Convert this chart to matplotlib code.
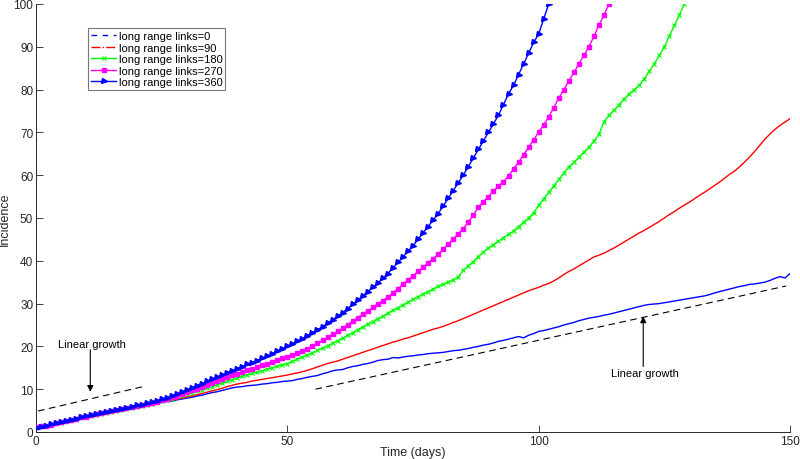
import matplotlib
matplotlib.use("Agg")
import matplotlib.pyplot as plt
from matplotlib.lines import Line2D

plt.rcParams['font.family'] = ['Liberation Sans', 'DejaVu Sans']

# ---- data (incidence per day) ----
links0 = [1.0,1.1,1.3,1.6,1.9,2.2,2.4,2.7,2.9,3.2,
          3.5,3.7,3.9,4.2,4.4,4.6,4.8,5.1,5.3,5.6,
          5.8,6.0,6.2,6.4,6.6,6.9,7.1,7.2,7.5,7.7,
          7.9,8.1,8.4,8.6,8.9,9.2,9.4,9.7,10.0,10.3,
          10.5,10.6,10.8,10.9,11.0,11.2,11.3,11.5,11.6,11.8,
          11.9,12.0,12.3,12.5,12.8,13.0,13.2,13.6,13.9,14.3,
          14.5,14.6,15.0,15.3,15.5,15.8,16.0,16.3,16.7,16.9,
          17.0,17.4,17.3,17.5,17.7,17.8,18.0,18.1,18.3,18.4,
          18.5,18.6,18.8,19.0,19.1,19.3,19.5,19.8,20.0,20.3,
          20.5,20.8,21.2,21.4,21.7,22.0,22.3,22.0,22.6,23.0,
          23.5,23.7,24.0,24.3,24.6,25.0,25.3,25.6,26.0,26.3,
          26.6,26.8,27.0,27.3,27.5,27.8,28.1,28.4,28.7,29.0,
          29.3,29.6,29.8,29.9,30.0,30.2,30.4,30.6,30.8,31.0,
          31.2,31.4,31.6,31.8,32.1,32.5,32.8,33.1,33.4,33.7,
          34.0,34.2,34.5,34.6,34.8,35.0,35.4,35.9,36.3,36.0,
          37.0]
links90 = [1.0,1.2,1.4,1.6,1.9,2.2,2.5,2.7,3.0,3.2,
           3.5,3.7,4.0,4.2,4.4,4.7,4.9,5.1,5.4,5.6,
           5.8,6.0,6.3,6.5,6.7,7.0,7.2,7.4,7.7,7.9,
           8.2,8.4,8.7,9.0,9.3,9.6,9.9,10.2,10.6,10.9,
           11.2,11.4,11.6,11.9,12.1,12.3,12.5,12.7,12.9,13.1,
           13.3,13.6,13.8,14.1,14.4,14.8,15.2,15.6,16.0,16.3,
           16.6,17.0,17.4,17.8,18.2,18.6,19.0,19.4,19.8,20.2,
           20.6,21.0,21.3,21.7,22.0,22.4,22.8,23.2,23.6,24.0,
           24.3,24.7,25.1,25.6,26.0,26.5,27.0,27.5,28.0,28.5,
           29.0,29.5,30.0,30.5,31.0,31.5,32.0,32.5,33.0,33.4,
           33.8,34.3,34.7,35.3,36.0,36.8,37.5,38.1,38.8,39.5,
           40.2,40.9,41.3,41.8,42.4,43.0,43.7,44.4,45.1,45.8,
           46.5,47.1,47.8,48.5,49.2,50.0,50.8,51.5,52.3,53.0,
           53.7,54.5,55.3,56.0,56.8,57.6,58.4,59.3,60.2,61.0,
           62.0,63.1,64.3,65.6,67.0,68.4,69.6,70.7,71.6,72.4,
           73.2]
links180 = [0.9,1.1,1.4,1.7,2.0,2.2,2.5,2.8,3.0,3.3,
            3.5,3.8,4.0,4.3,4.5,4.7,5.0,5.2,5.4,5.7,
            5.9,6.1,6.3,6.6,6.9,7.2,7.5,7.8,8.1,8.5,
            8.8,9.1,9.5,9.9,10.2,10.6,11.0,11.4,11.8,12.2,
            12.6,13.0,13.3,13.7,14.0,14.3,14.7,15.0,15.4,15.7,
            16.0,16.5,17.0,17.5,18.0,18.5,19.1,19.6,20.2,20.7,
            21.3,21.9,22.6,23.2,23.9,24.5,25.2,25.8,26.5,27.0,
            27.8,28.4,29.0,29.7,30.3,31.0,31.6,32.2,32.8,33.4,
            34.0,34.5,35.0,35.6,36.2,37.8,38.8,39.8,41.0,42.0,
            43.0,43.8,44.6,45.4,46.2,47.0,48.0,49.0,50.0,51.2,
            53.0,54.5,56.0,57.5,59.0,60.5,62.0,63.0,64.2,65.4,
            66.5,68.0,69.6,72.5,74.0,75.2,76.5,77.8,79.0,80.0,
            81.0,82.5,84.3,86.0,88.0,90.0,92.5,95.0,97.5,100.0]
links270 = [1.1,1.3,1.5,1.7,2.0,2.3,2.6,2.8,3.1,3.4,
            3.6,3.9,4.1,4.4,4.6,4.9,5.1,5.3,5.6,5.8,
            6.1,6.3,6.6,6.8,7.1,7.4,7.7,8.1,8.5,8.9,
            9.3,9.7,10.1,10.5,11.0,11.4,11.9,12.4,12.9,13.3,
            13.6,14.0,14.4,14.8,15.2,15.6,16.0,16.4,16.8,17.2,
            17.6,18.1,18.5,19.0,19.5,20.0,20.7,21.4,22.1,22.8,
            23.5,24.3,25.1,25.9,26.7,27.5,28.3,29.1,29.9,30.7,
            31.5,32.5,33.5,34.5,35.5,36.5,37.5,38.5,39.5,40.5,
            41.5,42.7,43.9,45.1,46.3,47.5,49.0,50.7,52.5,53.8,
            55.0,56.3,57.5,58.5,59.8,61.5,63.0,64.8,66.5,68.3,
            70.0,71.8,73.6,75.8,78.0,80.0,82.0,84.0,86.0,88.0,
            90.0,92.5,95.0,97.5,100.0]
links360 = [1.0,1.2,1.5,1.8,2.1,2.3,2.6,2.9,3.1,3.4,
            3.7,3.9,4.2,4.4,4.7,4.9,5.2,5.4,5.7,5.9,
            6.2,6.4,6.7,7.0,7.3,7.6,8.0,8.4,8.9,9.3,
            9.8,10.3,10.8,11.3,11.8,12.3,12.8,13.3,13.8,14.3,
            14.8,15.3,15.8,16.2,16.7,17.2,17.7,18.3,18.9,19.4,
            20.0,20.6,21.2,21.8,22.5,23.2,23.9,24.6,25.4,26.2,
            27.0,27.9,28.8,29.8,30.8,31.8,32.8,33.8,34.8,35.9,
            37.0,38.3,39.6,40.9,42.2,43.5,45.0,46.5,48.0,49.5,
            51.0,52.8,54.6,56.4,58.2,60.0,62.0,64.0,66.0,68.0,
            70.0,72.0,74.0,76.5,79.0,81.0,83.5,86.0,88.5,91.0,
            93.0,96.5,100.0]

labels = ['long range links=0', 'long range links=90', 'long range links=180',
          'long range links=270', 'long range links=360']

# reference "linear growth" dashed lines (x0, x1), (y0, y1)
lin1_x = [0.4, 21.3]
lin1_y = [4.9, 10.6]
lin2_x = [55.6, 149.2]
lin2_y = [10.0, 34.1]

# annotations: text position and arrow tail/head
ann1_text = (11.2, 20.6); ann1_tail = (10.8, 19.2); ann1_head = (10.8, 9.4)
ann2_text = (121.1, 13.8); ann2_tail = (120.8, 15.3); ann2_head = (120.8, 27.0)

# ---- figure ----
fig = plt.figure(figsize=(8, 4.6), dpi=100)
ax = fig.add_axes([0.045, 0.0587, 0.9425, 0.9305])

dark = '#262626'
ax.plot(range(len(links0)), links0, color='#0000ff', lw=1.0, zorder=3)
ax.plot(range(len(links90)), links90, color='#ff0000', lw=1.0, zorder=3)
ax.plot(range(len(links180)), links180, color='#00ff00', lw=1.0, marker='x',
        ms=3.5, mew=0.8, zorder=4)
ax.plot(range(len(links270)), links270, color='#ff00ff', lw=1.0, marker='s',
        ms=2.5, zorder=5)
ax.plot(range(len(links360)), links360, color='#0000ff', lw=1.0, marker='>',
        ms=3.6, zorder=6)

ax.plot(lin1_x, lin1_y, color='black', lw=0.8, dashes=(6, 4), zorder=2)
ax.plot(lin2_x, lin2_y, color='black', lw=0.8, dashes=(6, 4), zorder=2)

for txt, tail, head in [(ann1_text, ann1_tail, ann1_head),
                        (ann2_text, ann2_tail, ann2_head)]:
    ax.annotate('', xy=head, xytext=tail,
                arrowprops=dict(arrowstyle='-|>', color='black', lw=0.8,
                                mutation_scale=9, shrinkA=0, shrinkB=0))
    ax.text(txt[0], txt[1], 'Linear growth', ha='center', va='center',
            fontsize=8, color='black')

ax.set_xlim(0, 150)
ax.set_ylim(0, 100)
ax.set_xticks([0, 50, 100, 150])
ax.set_yticks(range(0, 101, 10))
ax.tick_params(direction='in', length=5, width=0.6, colors=dark,
               labelsize=8.5, pad=2)
for s in ['top', 'right']:
    ax.spines[s].set_visible(False)
for s in ['left', 'bottom']:
    ax.spines[s].set_color(dark)
    ax.spines[s].set_linewidth(0.7)

ax.set_xlabel('Time (days)', fontsize=9, color=dark, va='center')
ax.xaxis.set_label_coords(0.5, -0.046)
ax.set_ylabel('Incidence', fontsize=9, color=dark, labelpad=2)

handles = [
    Line2D([], [], color='#0000ff', lw=1.0, dashes=(4, 4)),
    Line2D([], [], color='#ff0000', lw=1.0, ls='-.'),
    Line2D([], [], color='#00ff00', lw=1.0, marker='x', ms=3.5, mew=0.8),
    Line2D([], [], color='#ff00ff', lw=1.0, marker='s', ms=2.5),
    Line2D([], [], color='#0000ff', lw=1.0, marker='>', ms=3.6),
]
leg = ax.legend(handles, labels, loc='upper left',
                bbox_to_anchor=(0.069, 0.943), fontsize=8, frameon=True,
                fancybox=False, borderpad=0.25, labelspacing=0.14,
                handlelength=2.3, handletextpad=0.2, borderaxespad=0)
leg.get_frame().set_edgecolor('#555555')
leg.get_frame().set_linewidth(0.8)

fig.savefig('out.png', dpi=100)
